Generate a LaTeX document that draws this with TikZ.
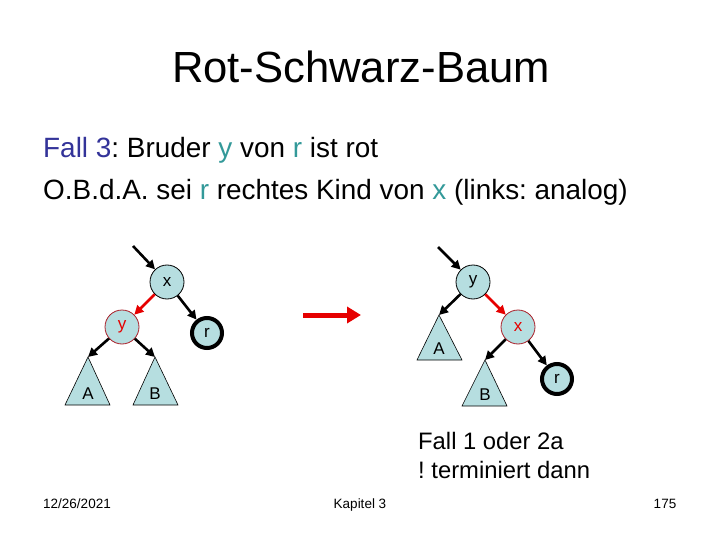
\documentclass[tikz,border=0pt]{standalone}
\usepackage{fontspec}
\setmainfont{Liberation Sans}
\usetikzlibrary{arrows.meta}
\frenchspacing
\definecolor{nodefill}{RGB}{182,222,224}
\definecolor{rbred}{RGB}{230,0,0}
\definecolor{rbdark}{RGB}{170,30,40}
\definecolor{teal3}{RGB}{51,153,153}
\definecolor{navy3}{RGB}{51,51,153}
\tikzset{
  rbnode/.style={circle,draw=black,fill=nodefill,minimum size=34pt,inner sep=0pt,line width=0.8pt,font=\fontsize{17}{17}\selectfont},
  rednode/.style={rbnode,draw=rbdark,text=rbred},
  blacknode/.style={rbnode,line width=4pt,minimum size=30pt},
  edge/.style={line width=2.6pt,-{Triangle[length=9pt,width=9pt]}},
  redge/.style={edge,draw=rbred},
  subtree/.style={draw=black,fill=nodefill,line width=0.6pt},
  tlabel/.style={font=\fontsize{17}{17}\selectfont},
  foot/.style={font=\fontsize{13.5}{14}\selectfont,inner sep=0pt,anchor=base}
}
\begin{document}
\frenchspacing
\begin{tikzpicture}[x=1pt,y=-1pt]
\useasboundingbox (0,0) rectangle (720,540);
% title
\node[font=\fontsize{43.6}{44}\selectfont,inner sep=0pt,anchor=base] (title) at (361,83) {Rot-Schwarz-Baum};
\node[font=\fontsize{27.9}{30}\selectfont,anchor=base west,inner sep=0pt] (l1) at (43,158)
  {\textcolor{navy3}{Fall 3}: Bruder \textcolor{teal3}{y} von \textcolor{teal3}{r} ist rot};
\node[font=\fontsize{27.9}{30}\selectfont,anchor=base west,inner sep=0pt] (l2) at (43,200)
  {O.B.d.A. sei \textcolor{teal3}{r} rechtes Kind von \textcolor{teal3}{x} (links: analog)};

% left tree
\node[rbnode] (x1) at (167,282) {x};
\node[rednode] (y1) at (122,327) {y};
\node[blacknode] (r1) at (207,333) {r};
\coordinate (in1) at (133,246);
\draw[subtree] (88,357) -- (65,405) -- (110,405) -- cycle;
\draw[subtree] (155,357) -- (133,405) -- (178,405) -- cycle;
\coordinate (A1) at (88,357);
\coordinate (B1) at (155,357);
\node[tlabel] (lA1) at (88,394) {A};
\node[tlabel] (lB1) at (155,394) {B};
\draw[edge] (in1) -- (x1);
\draw[redge] (x1) -- (y1);
\draw[edge] (x1) -- (r1);
\draw[edge] (y1) -- (A1);
\draw[edge] (y1) -- (B1);

% transform arrow
\coordinate (ta) at (303,315);
\coordinate (tb) at (361,315);
\draw[line width=5pt,draw=rbred,-{Triangle[length=14pt,width=16pt]}] (ta) -- (tb);

% right tree
\node[rbnode] (y2) at (473,282) {y};
\node[rednode] (x2) at (518,327) {x};
\node[blacknode] (r2) at (557,379) {r};
\coordinate (in2) at (438,247);
\draw[subtree] (439,315) -- (417,360) -- (462,360) -- cycle;
\draw[subtree] (485,360) -- (462,406) -- (507,406) -- cycle;
\coordinate (A2) at (439,315);
\coordinate (B2) at (485,360);
\node[tlabel] (lA2) at (439,349) {A};
\node[tlabel] (lB2) at (485,395) {B};
\draw[edge] (in2) -- (y2);
\draw[edge] (y2) -- (A2);
\draw[redge] (y2) -- (x2);
\draw[edge] (x2) -- (B2);
\draw[edge] (x2) -- (r2);

% note
\node[font=\fontsize{23.8}{26}\selectfont,anchor=base west,inner sep=0pt] (n1) at (418,449) {Fall 1 oder 2a};
\node[font=\fontsize{23.8}{26}\selectfont,anchor=base west,inner sep=0pt] (n2) at (418,478) {! terminiert dann};

% footer
\node[foot] (f1) at (77,508) {12/26/2021};
\node[foot] (f2) at (360,508) {Kapitel 3};
\node[foot] (f3) at (665,508) {175};
\end{tikzpicture}
\end{document}
